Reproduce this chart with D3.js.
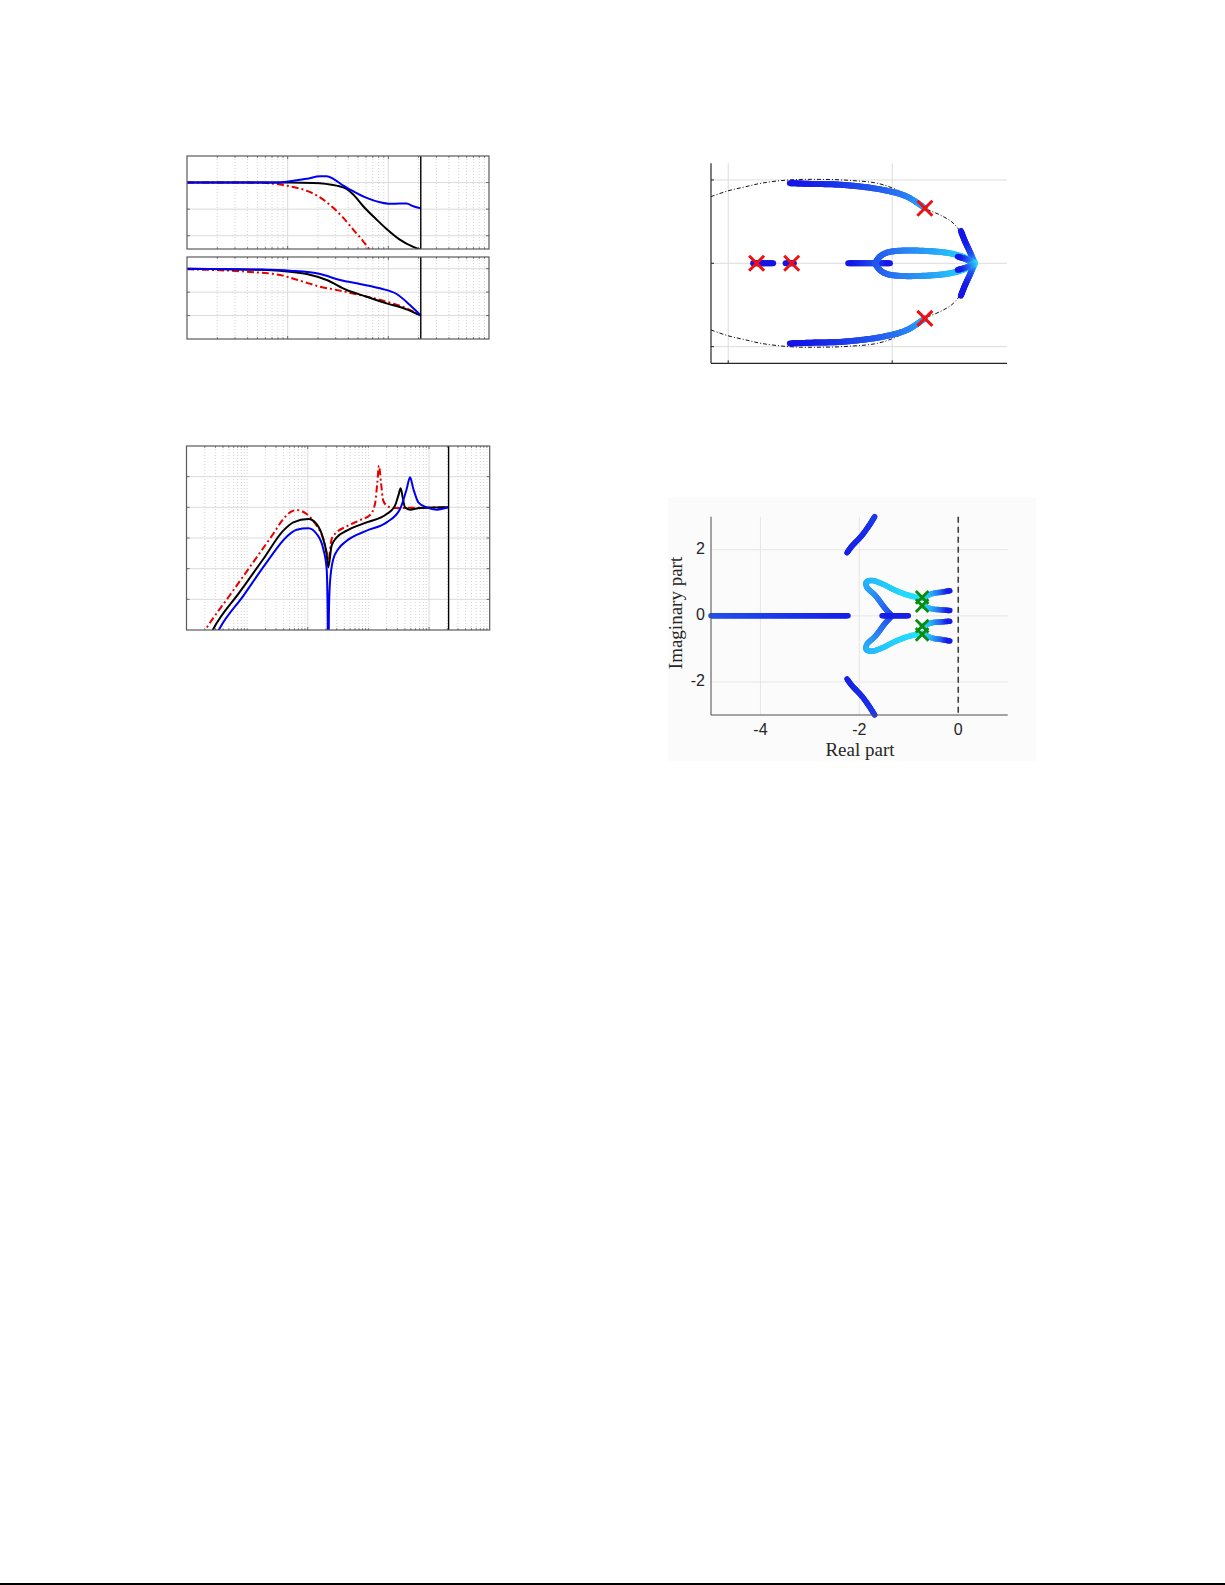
<!DOCTYPE html>
<html><head><meta charset="utf-8">
<script src="https://cdn.jsdelivr.net/npm/d3@7"></script>
<style>body{margin:0;background:#fff}svg{display:block}</style>
</head><body><svg id="c" width="1225" height="1585"></svg>
<script>
// ---------------- DATA ----------------
// Panel A: Bode magnitude (dB)
const magFreqRed   = [0.1, 0.3, 0.573, 0.84, 1.05, 1.43, 1.80, 2.26, 2.84, 3.57, 4.48, 5.63, 6.31, 7.0];
const magRed       = [0, 0, -0.2, -1.5, -2.8, -5.3, -8.3, -12.8, -19.0, -26.6, -35.4, -44.2, -49.1, -55];
const magFreqBlack = [0.1, 0.5, 1.05, 1.80, 3.07, 3.85, 4.48, 5.63, 7.63, 9.61, 13.0, 17.7, 21.0];
const magBlack     = [0, 0, 0, -0.25, -2.3, -4.8, -9.0, -17.8, -27.8, -34.9, -42.9, -48.4, -50.5];
const magFreqBlue  = [0.1, 0.5, 0.84, 1.05, 1.55, 2.10, 2.44, 2.84, 3.57, 4.48, 6.09, 8.25, 10.4, 13.0, 15.2, 17.7, 21.0];
const magBlue      = [0, 0, 0, 1.0, 2.8, 4.7, 4.7, 2.8, -2.3, -6.5, -11.5, -14.8, -16.0, -15.8, -15.8, -17.8, -19.3];
// Panel B: Bode phase (deg)
const phFreqRed    = [0.1, 0.39, 0.84, 1.32, 2.10, 3.07, 5.22, 9.61, 15.2, 21.0];
const phRed        = [-2.3, -11.5, -24.2, -46, -69, -81.8, -101, -127, -152, -180];
const phFreqBlack  = [0.1, 0.5, 0.84, 1.55, 2.44, 3.85, 6.09, 9.61, 15.2, 21.0];
const phBlack      = [0, -4, -7.7, -20.4, -43.4, -81.8, -107.6, -133, -156, -180];
const phFreqBlue   = [0.1, 0.5, 1.05, 2.10, 3.31, 5.22, 8.25, 12.1, 16.4, 21.0];
const phBlue       = [0, -3, -7.7, -20.4, -43.4, -58.8, -75.3, -97.2, -139.5, -180];
// Panel C: sensitivity magnitude (dB), log10 of frequency
const sLogFRed   = [-2.75,-2.678,-2.283,-1.898,-1.568,-1.404,-1.294,-1.183,-1.018,-0.853,-0.744,-0.689,-0.662,-0.607,-0.523,-0.358,-0.139,0.026,0.108,0.147,0.174,0.207,0.245,0.328,0.466,1.29,1.317];
const sRed       = [-84,-79.3,-57.2,-35.7,-17.2,-7.6,-3.3,-1.8,-4.4,-12,-20.7,-29.4,-34.8,-20.7,-16.3,-12.4,-8.3,-5.0,2.2,16.3,27.2,16.3,4.3,0.4,-0.4,0,0];
const sLogFBlack = [-2.62,-2.558,-2.118,-1.733,-1.404,-1.239,-0.991,-0.853,-0.744,-0.689,-0.662,-0.607,-0.523,-0.358,-0.029,0.301,0.438,0.493,0.532,0.565,0.603,0.686,0.851,1.29,1.317];
const sBlack     = [-84,-79.3,-55,-33.7,-15.2,-9.8,-7.6,-10.9,-20.7,-30.5,-39.1,-25,-19.6,-15.2,-9.8,-4.4,1.1,7.6,12.4,6.5,0,-1.5,-0.4,0,0];
const sLogFBlue  = [-2.52,-2.459,-2.063,-1.678,-1.348,-1.183,-0.991,-0.853,-0.744,-0.689,-0.672,-0.662,-0.652,-0.634,-0.579,-0.497,-0.358,-0.029,0.301,0.521,0.631,0.686,0.741,0.823,0.961,1.126,1.317];
const sBlue      = [-84,-79.3,-57.7,-35.9,-19.2,-14.6,-13.7,-17.4,-27.2,-40,-70,-130,-70,-49,-33.7,-27.2,-21.8,-15.2,-9.8,-1.1,12,19.6,12,3.3,0,-1.5,0];
const nyquist = 21.0;

// Panel D: discrete root locus (upper half, conjugates mirrored)
const boundaryUpper = [[-1.105,0.800],[-1.002,0.869],[-0.898,0.917],[-0.795,0.962],[-0.624,1.001],[-0.441,1.007],[-0.258,0.995],[-0.075,0.953],[0.077,0.833],[0.199,0.661],[0.291,0.581],[0.364,0.496],[0.413,0.388],[0.455,0.256],[0.492,0.100],[0.505,0]];
const dOuter      = [[0.199,0.661],[0.090,0.800],[-0.057,0.881],[-0.301,0.941],[-0.502,0.953],[-0.624,0.962]];
const dOuterShade = [0.75,0.55,0.4,0.2,0.05,0.0];
const dLoop       = [[-0.106,0],[-0.076,0.079],[-0.034,0.127],[0.047,0.151],[0.210,0.148],[0.352,0.120],[0.454,0.060],[0.504,0]];
const dLoopShade  = [0.3,0.35,0.4,0.5,0.65,0.8,0.9,1.0];
const dApexEdge   = [[0.504,0],[0.474,0.136],[0.443,0.268],[0.419,0.388]];
const dApexEdgeShade = [1.0,0.3,0.05,0.0];
const dApexIn     = [[0.504,0],[0.45,0.05],[0.40,0.079]];
const dApexInShade= [1.0,0.4,0.0];
const dRealLeft   = [[-0.106,0],[-0.268,0]];
const dRealRight  = [[-0.106,0],[-0.014,0]];
const dRealShade  = [0.3,0.0];
const dSegA = [[-0.848,0],[-0.726,0]];
const dSegB = [[-0.650,0],[-0.600,0]];
const dPoles = [[-0.827,0],[-0.613,0],[0.199,0.661],[0.199,-0.661]];

// Panel E: continuous root locus
const eReal      = [[-5,0],[-2.23,0]];
const eRealShade = [0.3,0.05];
const eArc       = [[-2.25,1.91],[-2.15,2.11],[-1.95,2.43],[-1.80,2.74],[-1.69,3.0]];
const eArcShade  = [0.05,0.07,0.1,0.13,0.18];
const eCenter    = [[-1.54,0],[-1.01,0]];
const eLobe      = [[-1.34,0],[-1.47,0.21],[-1.68,0.62],[-1.85,0.87],[-1.86,1.02],[-1.75,1.07],[-1.54,0.97],[-1.27,0.77],[-1.0,0.62],[-0.73,0.53]];
const eLobeShade = [0.15,0.35,0.55,0.7,0.75,0.8,0.85,0.9,0.95,1.0];
const eOut       = [[-0.73,0.53],[-0.53,0.67],[-0.32,0.72],[-0.17,0.76]];
const eOutShade  = [1.0,0.8,0.4,0.0];
const eIn        = [[-0.73,0.31],[-0.53,0.21],[-0.32,0.18],[-0.17,0.16]];
const eInShade   = [1.0,0.8,0.4,0.0];
const ePoles     = [[-0.73,0.56],[-0.73,0.31],[-0.73,-0.31],[-0.73,-0.56]];
const eXTicks = [-4,-2,0], eYTicks = [-2,0,2];
const eXLabel = "Real part", eYLabel = "Imaginary part";

// ---------------- DRAWING ----------------
const svg = d3.select("#c");
svg.append("rect").attr("width",1225).attr("height",1585).attr("fill","#fff");
const cmap = d3.scaleLinear().domain([0,0.5,1]).range(["#1414e6","#2a7af2","#22e4ff"]).interpolate(d3.interpolateRgb);
let clipId = 0;
function clip(x0,y0,w,h){const id="cl"+(clipId++);svg.append("clipPath").attr("id",id).append("rect").attr("x",x0).attr("y",y0).attr("width",w).attr("height",h);return "url(#"+id+")";}

function logPanel(xs, ys, majorX, yTicks){
  const [x0,x1]=xs.range(), [y1,y0]=ys.range();
  const g = svg.append("g");
  const [d0,d1]=xs.domain();
  const minors=[];
  for(let e=Math.round(Math.log10(d0)); e<Math.round(Math.log10(d1)); e++){
    for(let k=1;k<10;k++){const v=k*Math.pow(10,e); if(v>d0*1.0001 && v<d1*0.9999 && !majorX.some(m=>Math.abs(m-v)/v<1e-6)) minors.push(v);}
  }
  g.selectAll(null).data(minors).enter().append("line").attr("x1",d=>xs(d)).attr("x2",d=>xs(d)).attr("y1",y0).attr("y2",y1).attr("stroke","#c8c8c8").attr("stroke-width",0.8).attr("stroke-dasharray","1,2");
  g.selectAll(null).data(majorX).enter().append("line").attr("x1",d=>xs(d)).attr("x2",d=>xs(d)).attr("y1",y0).attr("y2",y1).attr("stroke","#dadada").attr("stroke-width",1);
  g.selectAll(null).data(yTicks).enter().append("line").attr("x1",x0).attr("x2",x1).attr("y1",d=>ys(d)).attr("y2",d=>ys(d)).attr("stroke","#dadada").attr("stroke-width",1);
  const tk = g.append("g").attr("stroke","#4d4d4d").attr("stroke-width",0.8);
  yTicks.forEach(v=>{tk.append("line").attr("x1",x0).attr("x2",x0+3).attr("y1",ys(v)).attr("y2",ys(v));tk.append("line").attr("x1",x1).attr("x2",x1-3).attr("y1",ys(v)).attr("y2",ys(v));});
  majorX.forEach(v=>{tk.append("line").attr("x1",xs(v)).attr("x2",xs(v)).attr("y1",y1).attr("y2",y1-3);tk.append("line").attr("x1",xs(v)).attr("x2",xs(v)).attr("y1",y0).attr("y2",y0+3);});
  minors.forEach(v=>{tk.append("line").attr("x1",xs(v)).attr("x2",xs(v)).attr("y1",y1).attr("y2",y1-1.8);tk.append("line").attr("x1",xs(v)).attr("x2",xs(v)).attr("y1",y0).attr("y2",y0+1.8);});
  return g;
}
function frame(xs,ys){
  const [x0,x1]=xs.range(), [y1,y0]=ys.range();
  svg.append("rect").attr("x",x0).attr("y",y0).attr("width",x1-x0).attr("height",y1-y0).attr("fill","none").attr("stroke","#5a5a5a").attr("stroke-width",1.2);
}
function styleLine(p,style){
  if(style==="red") p.attr("stroke","#e60000").attr("stroke-dasharray","7,3,2,3");
  else if(style==="black") p.attr("stroke","#000");
  else p.attr("stroke","#0000f0");
}
function curve(xs,ys,fx,fy,style,cp){
  const pts=fx.map((f,i)=>[f,fy[i]]);
  const line=d3.line().x(d=>xs(d[0])).y(d=>ys(d[1])).curve(d3.curveMonotoneX);
  const p=svg.append("path").attr("d",line(pts)).attr("fill","none").attr("clip-path",cp).attr("stroke-width",2).attr("stroke-linejoin","round");
  styleLine(p,style);
}

// Panel A
{
  const xs=d3.scaleLog().domain([0.1,100]).range([187,489]);
  const ys=d3.scaleLinear().domain([-50,20]).range([249,156]);
  logPanel(xs,ys,[1,10],[-40,-20,0]);
  const cp=clip(187,156,302,93);
  curve(xs,ys,magFreqRed,magRed,"red",cp);
  curve(xs,ys,magFreqBlack,magBlack,"black",cp);
  curve(xs,ys,magFreqBlue,magBlue,"blue",cp);
  svg.append("line").attr("x1",xs(nyquist)).attr("x2",xs(nyquist)).attr("y1",156).attr("y2",249).attr("stroke","#000").attr("stroke-width",1.4);
  frame(xs,ys);
}
// Panel B
{
  const xs=d3.scaleLog().domain([0.1,100]).range([187,489]);
  const ys=d3.scaleLinear().domain([-270,45]).range([339,257]);
  logPanel(xs,ys,[1,10],[-180,-90,0]);
  const cp=clip(187,257,302,82);
  curve(xs,ys,phFreqRed,phRed,"red",cp);
  curve(xs,ys,phFreqBlack,phBlack,"black",cp);
  curve(xs,ys,phFreqBlue,phBlue,"blue",cp);
  svg.append("line").attr("x1",xs(nyquist)).attr("x2",xs(nyquist)).attr("y1",257).attr("y2",339).attr("stroke","#000").attr("stroke-width",1.4);
  frame(xs,ys);
}
// Panel C
{
  const xs=d3.scaleLog().domain([0.001,100]).range([186.5,489.7]);
  const ys=d3.scaleLinear().domain([-80,40]).range([630,446]);
  logPanel(xs,ys,[0.1,10],[-60,-40,-20,0,20]);
  const cp=clip(186.5,446,303.2,184);
  const xsl=d3.scaleLinear().domain([-3,2]).range([186.5,489.7]);
  const lin=(fx,fy,style)=>{
    const pts=fx.map((f,i)=>[f,fy[i]]);
    const line=d3.line().x(d=>xsl(d[0])).y(d=>ys(d[1])).curve(d3.curveMonotoneX);
    const p=svg.append("path").attr("d",line(pts)).attr("fill","none").attr("clip-path",cp).attr("stroke-width",2).attr("stroke-linejoin","round");
    styleLine(p,style);
  };
  lin(sLogFRed,sRed,"red"); lin(sLogFBlack,sBlack,"black"); lin(sLogFBlue,sBlue,"blue");
  svg.append("line").attr("x1",xs(nyquist)).attr("x2",xs(nyquist)).attr("y1",446).attr("y2",630).attr("stroke","#000").attr("stroke-width",1.4);
  frame(xs,ys);
}

function gradPath(g, xs, ys, pts, shades, width){
  const line=d3.line().x(d=>xs(d[0])).y(d=>ys(d[1])).curve(d3.curveCatmullRom.alpha(0.5));
  const tmp=g.append("path").attr("d",line(pts)).attr("fill","none");
  const node=tmp.node(), L=node.getTotalLength();
  const px=pts.map(p=>[xs(p[0]),ys(p[1])]);
  const cum=[0]; for(let i=1;i<px.length;i++) cum.push(cum[i-1]+Math.hypot(px[i][0]-px[i-1][0],px[i][1]-px[i-1][1]));
  const tot=cum[cum.length-1]||1;
  const shadeAt=fr=>{const s=fr*tot;let i=1;while(i<cum.length-1&&cum[i]<s)i++;const t=(s-cum[i-1])/((cum[i]-cum[i-1])||1);return shades[i-1]+(shades[i]-shades[i-1])*Math.max(0,Math.min(1,t));};
  const N=Math.max(2,Math.ceil(L/1.5));
  let prev=node.getPointAtLength(0);
  for(let k=1;k<=N;k++){
    const p=node.getPointAtLength(L*k/N);
    g.append("line").attr("x1",prev.x).attr("y1",prev.y).attr("x2",p.x).attr("y2",p.y).attr("stroke",cmap(shadeAt((k-0.5)/N))).attr("stroke-width",width).attr("stroke-linecap","round");
    prev=p;
  }
  tmp.remove();
}
const conj=a=>a.map(p=>[p[0],-p[1]]);
function xMark(g,cx,cy,s,color,w){
  g.append("path").attr("d",`M${cx-s},${cy-s}L${cx+s},${cy+s}M${cx-s},${cy+s}L${cx+s},${cy-s}`).attr("stroke",color).attr("stroke-width",w).attr("fill","none");
}

// Panel D
{
  const xs=d3.scaleLinear().domain([-1.105,0.70]).range([711,1007]);
  const ys=d3.scaleLinear().domain([-1.2,1.2]).range([363.3,163.3]);
  const g=svg.append("g");
  [-1,0].forEach(v=>g.append("line").attr("x1",xs(v)).attr("x2",xs(v)).attr("y1",163.3).attr("y2",363.3).attr("stroke","#dcdcdc"));
  [-1,0,1].forEach(v=>g.append("line").attr("x1",711).attr("x2",1007).attr("y1",ys(v)).attr("y2",ys(v)).attr("stroke","#dcdcdc"));
  g.append("line").attr("x1",711).attr("x2",711).attr("y1",163.3).attr("y2",363.3).attr("stroke","#262626").attr("stroke-width",1.2);
  g.append("line").attr("x1",711).attr("x2",1007).attr("y1",363.3).attr("y2",363.3).attr("stroke","#262626").attr("stroke-width",1.2);
  [-1,0,1].forEach(v=>g.append("line").attr("x1",711).attr("x2",714).attr("y1",ys(v)).attr("y2",ys(v)).attr("stroke","#262626"));
  [-1,0].forEach(v=>g.append("line").attr("x1",xs(v)).attr("x2",xs(v)).attr("y1",363.3).attr("y2",360.3).attr("stroke","#262626"));
  const bl=d3.line().x(d=>xs(d[0])).y(d=>ys(d[1])).curve(d3.curveCatmullRom.alpha(0.5));
  const cp=clip(711,163.3,296,200);
  [boundaryUpper, conj(boundaryUpper)].forEach(b=>g.append("path").attr("d",bl(b)).attr("fill","none").attr("stroke","#111").attr("stroke-width",1).attr("stroke-dasharray","4,2,1,2").attr("clip-path",cp));
  const W=6;
  gradPath(g,xs,ys,dOuter,dOuterShade,W); gradPath(g,xs,ys,conj(dOuter),dOuterShade,W);
  gradPath(g,xs,ys,dRealLeft,dRealShade,W); gradPath(g,xs,ys,dRealRight,dRealShade,W);
  gradPath(g,xs,ys,dLoop,dLoopShade,W); gradPath(g,xs,ys,conj(dLoop),dLoopShade,W);
  gradPath(g,xs,ys,dApexEdge,dApexEdgeShade,W); gradPath(g,xs,ys,conj(dApexEdge),dApexEdgeShade,W);
  gradPath(g,xs,ys,dApexIn,dApexInShade,W); gradPath(g,xs,ys,conj(dApexIn),dApexInShade,W);
  gradPath(g,xs,ys,dSegA,[0,0],W); gradPath(g,xs,ys,dSegB,[0,0],W);
  dPoles.forEach(p=>xMark(g,xs(p[0]),ys(p[1]),7.5,"#f01010",3));
}
// Panel E
{
  svg.append("rect").attr("x",668).attr("y",497).attr("width",368).attr("height",264).attr("fill","#fbfbfb");
  const xs=d3.scaleLinear().domain([-5,1]).range([711,1007.7]);
  const ys=d3.scaleLinear().domain([-3,3]).range([715,516.7]);
  const g=svg.append("g");
  eXTicks.forEach(v=>g.append("line").attr("x1",xs(v)).attr("x2",xs(v)).attr("y1",516.7).attr("y2",715).attr("stroke","#e6e6e6"));
  eYTicks.forEach(v=>g.append("line").attr("x1",711).attr("x2",1007.7).attr("y1",ys(v)).attr("y2",ys(v)).attr("stroke","#e6e6e6"));
  g.append("line").attr("x1",xs(0)).attr("x2",xs(0)).attr("y1",516.7).attr("y2",715).attr("stroke","#404040").attr("stroke-width",1.6).attr("stroke-dasharray","6,4");
  const W=5.5;
  gradPath(g,xs,ys,eReal,eRealShade,W);
  gradPath(g,xs,ys,eArc,eArcShade,W); gradPath(g,xs,ys,conj(eArc),eArcShade,W);
  gradPath(g,xs,ys,eLobe,eLobeShade,W); gradPath(g,xs,ys,conj(eLobe),eLobeShade,W);
  gradPath(g,xs,ys,eCenter,[0.05,0.05],W);
  gradPath(g,xs,ys,eOut,eOutShade,W); gradPath(g,xs,ys,conj(eOut),eOutShade,W);
  gradPath(g,xs,ys,eIn,eInShade,W); gradPath(g,xs,ys,conj(eIn),eInShade,W);
  ePoles.forEach(p=>xMark(g,xs(p[0]),ys(p[1]),6.3,"#0a8c0a",2.8));
  g.append("line").attr("x1",711).attr("x2",711).attr("y1",516.7).attr("y2",715).attr("stroke","#4d4d4d");
  g.append("line").attr("x1",711).attr("x2",1007.7).attr("y1",715).attr("y2",715).attr("stroke","#4d4d4d");
  eXTicks.forEach(v=>g.append("text").attr("x",xs(v)).attr("y",731).attr("text-anchor","middle").attr("dominant-baseline","middle").attr("font-family","Liberation Sans, Arial, sans-serif").attr("font-size",16).attr("fill","#262626").text(v));
  eYTicks.forEach(v=>g.append("text").attr("x",705).attr("y",ys(v)).attr("text-anchor","end").attr("dominant-baseline","middle").attr("font-family","Liberation Sans, Arial, sans-serif").attr("font-size",16).attr("fill","#262626").text(v));
  g.append("text").attr("x",860).attr("y",752).attr("text-anchor","middle").attr("dominant-baseline","middle").attr("font-family","Liberation Serif, serif").attr("font-size",19).attr("fill","#262626").text(eXLabel);
  g.append("text").attr("transform","translate(678,613) rotate(-90)").attr("text-anchor","middle").attr("dominant-baseline","middle").attr("font-family","Liberation Serif, serif").attr("font-size",19).attr("fill","#262626").text(eYLabel);
}
// bottom rule
svg.append("rect").attr("x",0).attr("y",1583).attr("width",1225).attr("height",2).attr("fill","#000");
</script></body></html>
